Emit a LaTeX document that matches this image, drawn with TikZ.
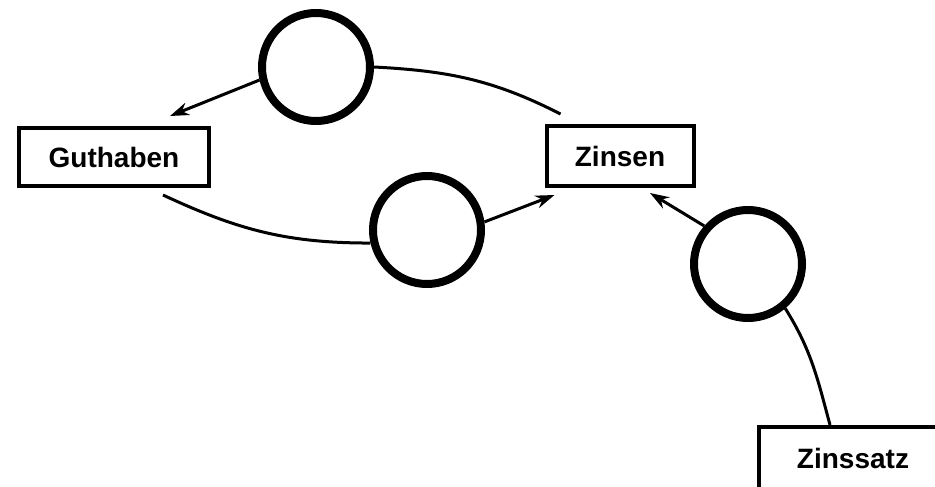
\documentclass[tikz,border=0pt]{standalone}
\usepackage{fontspec}
\setmainfont{Liberation Sans}
\usetikzlibrary{arrows.meta}
\begin{document}
\begin{tikzpicture}[x=1pt,y=-1pt,font=\bfseries\fontsize{28}{32}\selectfont,>={Stealth[length=19pt,width=13pt]}]
  \tikzset{box/.style={draw,line width=4pt,minimum height=58pt,inner sep=0pt,align=center}}
  \tikzset{valve/.style={draw,circle,line width=8pt,minimum size=108pt,inner sep=0pt}}
  \tikzset{flow/.style={line width=3pt}}
  \useasboundingbox (0,0) rectangle (935,487);
  \clip (0,0) rectangle (935,487);
  \node[box,minimum width=190pt] (guthaben) at (114,157) {Guthaben};
  \node[box,minimum width=147pt,minimum height=60pt] (zinsen) at (620,156) {Zinsen};
  \node[box,minimum width=188pt,minimum height=62pt] (zinssatz) at (853,458) {Zinssatz};
  \node[valve] (oben) at (316,67) {};
  \node[valve] (unten) at (427,230) {};
  \node[valve] (rechts) at (748,264) {};
  \draw[flow] ([xshift=16pt,yshift=10pt]zinsen.north west) to[out=153,in=-3] (oben.0);
  \draw[flow,->] (oben.193) -- ([xshift=56pt,yshift=10pt]guthaben.north);
  \draw[flow] ([xshift=49pt,yshift=-7pt]guthaben.south) to[out=-25,in=180] (unten.193);
  \draw[flow,->] (unten.8) -- ([xshift=10pt,yshift=-7pt]zinsen.south west);
  \draw[flow,->] (rechts.139) -- ([xshift=30pt,yshift=-5pt]zinsen.south);
  \draw[flow] ([xshift=73pt]zinssatz.north west) to[out=105,in=-58] (rechts.-50);
\end{tikzpicture}
\end{document}
